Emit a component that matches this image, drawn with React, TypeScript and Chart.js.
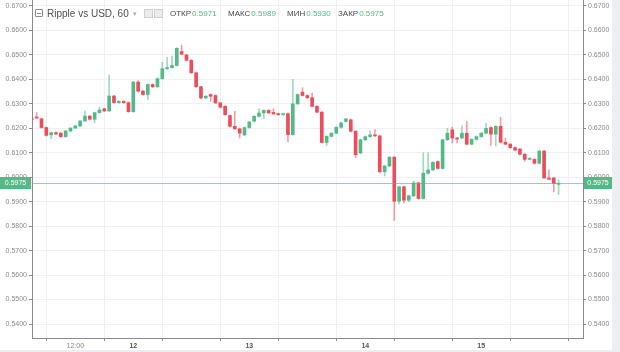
import React, { useEffect, useRef } from "react";
import { Chart, registerables } from "chart.js";
Chart.register(...registerables);

// hourly candles, first candle at hour 3 of day 11 (day 12 00:00 = hour 24)
const START_HOUR = 3;

const opens = [
  0.6240, 0.6246, 0.6239, 0.6203, 0.6173, 0.6182, 0.6180, 0.6166, 0.6189, 0.6201,
  0.6210, 0.6230, 0.6250, 0.6237, 0.6264, 0.6280, 0.6271, 0.6332, 0.6305, 0.6310,
  0.6305, 0.6268, 0.6389, 0.6352, 0.6338, 0.6379, 0.6370, 0.6403, 0.6444, 0.6448,
  0.6457, 0.6514, 0.6500, 0.6478, 0.6427, 0.6370, 0.6324, 0.6338, 0.6334, 0.6304,
  0.6290, 0.6252, 0.6208, 0.6198, 0.6173, 0.6203, 0.6229, 0.6249, 0.6263, 0.6273,
  0.6265, 0.6259, 0.6256, 0.6260, 0.6174, 0.6300, 0.6348, 0.6334, 0.6325, 0.6290,
  0.6266, 0.6142, 0.6167, 0.6180, 0.6204, 0.6228, 0.6235, 0.6188, 0.6099, 0.6153,
  0.6166, 0.6173, 0.6169, 0.6022, 0.6046, 0.6082, 0.5902, 0.5961, 0.5906, 0.5924,
  0.5977, 0.5913, 0.6016, 0.6030, 0.6064, 0.6036, 0.6153, 0.6194, 0.6160, 0.6160,
  0.6180, 0.6135, 0.6155, 0.6166, 0.6180, 0.6203, 0.6176, 0.6208, 0.6143, 0.6135,
  0.6121, 0.6115, 0.6094, 0.6073, 0.6073, 0.6057, 0.6107, 0.5997, 0.5997, 0.5971,
];

const closes = [
  0.6236, 0.6242, 0.6203, 0.6171, 0.6182, 0.6177, 0.6166, 0.6189, 0.6201, 0.6210,
  0.6230, 0.6250, 0.6237, 0.6264, 0.6275, 0.6271, 0.6332, 0.6305, 0.6310, 0.6305,
  0.6268, 0.6389, 0.6352, 0.6338, 0.6379, 0.6370, 0.6403, 0.6444, 0.6448, 0.6457,
  0.6527, 0.6503, 0.6478, 0.6427, 0.6370, 0.6324, 0.6331, 0.6331, 0.6304, 0.6286,
  0.6256, 0.6208, 0.6198, 0.6180, 0.6203, 0.6226, 0.6249, 0.6263, 0.6273, 0.6263,
  0.6259, 0.6256, 0.6260, 0.6174, 0.6300, 0.6338, 0.6334, 0.6325, 0.6290, 0.6266,
  0.6142, 0.6167, 0.6180, 0.6204, 0.6222, 0.6238, 0.6188, 0.6092, 0.6153, 0.6166,
  0.6173, 0.6169, 0.6022, 0.6046, 0.6082, 0.5902, 0.5961, 0.5906, 0.5924, 0.5977,
  0.5913, 0.6016, 0.6030, 0.6061, 0.6036, 0.6153, 0.6180, 0.6160, 0.6156, 0.6180,
  0.6135, 0.6155, 0.6166, 0.6180, 0.6200, 0.6176, 0.6208, 0.6143, 0.6135, 0.6121,
  0.6111, 0.6094, 0.6073, 0.6077, 0.6057, 0.6107, 0.5997, 0.5992, 0.5974, 0.5975,
];

const highs = [
  0.6243, 0.6264, 0.6242, 0.6205, 0.6185, 0.6186, 0.6184, 0.6192, 0.6203, 0.6213,
  0.6232, 0.6270, 0.6252, 0.6266, 0.6287, 0.6282, 0.6418, 0.6335, 0.6313, 0.6313,
  0.6308, 0.6392, 0.6395, 0.6356, 0.6382, 0.6382, 0.6406, 0.6470, 0.6490, 0.6495,
  0.6530, 0.6540, 0.6503, 0.6481, 0.6430, 0.6373, 0.6334, 0.6341, 0.6337, 0.6307,
  0.6293, 0.6255, 0.6270, 0.6201, 0.6206, 0.6229, 0.6252, 0.6280, 0.6276, 0.6276,
  0.6280, 0.6262, 0.6263, 0.6263, 0.6400, 0.6341, 0.6366, 0.6337, 0.6345, 0.6293,
  0.6269, 0.6170, 0.6183, 0.6207, 0.6225, 0.6241, 0.6238, 0.6191, 0.6156, 0.6169,
  0.6190, 0.6195, 0.6172, 0.6049, 0.6085, 0.6085, 0.5964, 0.5964, 0.5927, 0.5985,
  0.5980, 0.6100, 0.6100, 0.6064, 0.6067, 0.6156, 0.6200, 0.6205, 0.6163, 0.6210,
  0.6228, 0.6158, 0.6169, 0.6183, 0.6220, 0.6206, 0.6211, 0.6245, 0.6160, 0.6138,
  0.6124, 0.6118, 0.6097, 0.6080, 0.6076, 0.6110, 0.6110, 0.6030, 0.6000, 0.5989,
];

const lows = [
  0.6233, 0.6240, 0.6200, 0.6168, 0.6158, 0.6174, 0.6162, 0.6163, 0.6186, 0.6199,
  0.6207, 0.6228, 0.6234, 0.6223, 0.6262, 0.6268, 0.6268, 0.6302, 0.6302, 0.6302,
  0.6265, 0.6265, 0.6348, 0.6334, 0.6318, 0.6366, 0.6366, 0.6400, 0.6440, 0.6445,
  0.6454, 0.6500, 0.6475, 0.6424, 0.6367, 0.6320, 0.6320, 0.6310, 0.6301, 0.6283,
  0.6253, 0.6205, 0.6195, 0.6160, 0.6170, 0.6200, 0.6226, 0.6246, 0.6240, 0.6260,
  0.6256, 0.6253, 0.6253, 0.6145, 0.6171, 0.6297, 0.6331, 0.6322, 0.6287, 0.6263,
  0.6139, 0.6130, 0.6164, 0.6177, 0.6201, 0.6225, 0.6185, 0.6080, 0.6096, 0.6150,
  0.6163, 0.6166, 0.6019, 0.6005, 0.6043, 0.5824, 0.5890, 0.5895, 0.5900, 0.5921,
  0.5910, 0.5910, 0.6013, 0.6027, 0.6033, 0.6033, 0.6150, 0.6140, 0.6140, 0.6157,
  0.6132, 0.6132, 0.6152, 0.6163, 0.6177, 0.6130, 0.6128, 0.6140, 0.6132, 0.6118,
  0.6108, 0.6091, 0.6065, 0.6070, 0.6054, 0.6054, 0.5994, 0.5989, 0.5940, 0.5930,
];

const xTickHours = [12, 24, 36, 48, 60, 72, 84, 96, 108];
const xTickLabels = ["12:00", "12", "", "13", "", "14", "", "15", ""];
const xTickBold = [false, true, false, true, false, true, false, true, false];
const yTickValues = [
  0.54, 0.55, 0.56, 0.57, 0.58, 0.59, 0.6, 0.61, 0.62, 0.63, 0.64, 0.65, 0.66, 0.67,
];
const lastPrice = 0.5975;
const legendTitle = "Ripple vs USD, 60";
const legendFields = [
  { label: "ОТКР", value: "0.5971", left: 170 },
  { label: "МАКС", value: "0.5989", left: 228 },
  { label: "МИН", value: "0.5930", left: 287 },
  { label: "ЗАКР", value: "0.5975", left: 338 },
];

const UP = "#53b987";
const DOWN = "#eb4d5c";
const UP_WICK = "rgba(83,185,135,0.55)";
const DOWN_WICK = "rgba(235,77,92,0.55)";
const AXIS = "#8c8c8c";
const GRID = "#eef0f3";
const TICK_FONT = "'Liberation Sans', Arial, sans-serif";

const Y_MIN = 0.53428;
const Y_MAX = 0.67245;
const X_MIN = 3.04;
const X_MAX = 117.05;

const pricePlugin = {
  id: "priceLine",
  afterDatasetsDraw(chart: any) {
    const { ctx, chartArea, scales } = chart;
    const y = Math.round(scales.y.getPixelForValue(lastPrice)) + 0.5;
    ctx.save();
    ctx.strokeStyle = "rgba(83,185,135,0.65)";
    ctx.lineWidth = 1;
    ctx.beginPath();
    ctx.moveTo(chartArea.left, y);
    ctx.lineTo(chartArea.right, y);
    ctx.stroke();
    ctx.restore();
  },
  afterDraw(chart: any) {
    const { ctx, chartArea, scales, width } = chart;
    const y = Math.round(scales.y.getPixelForValue(lastPrice));
    const txt = lastPrice.toFixed(4);
    ctx.save();
    ctx.fillStyle = UP;
    ctx.fillRect(0, y - 6, chartArea.left - 1, 12);
    ctx.fillRect(chartArea.right + 1, y - 6, width - chartArea.right - 1, 12);
    ctx.fillStyle = "#ffffff";
    ctx.font = "7px " + TICK_FONT;
    ctx.textBaseline = "middle";
    ctx.textAlign = "center";
    ctx.fillText(txt, (chartArea.left - 1) / 2, y + 0.5);
    ctx.fillText(txt, (chartArea.right + 1 + width) / 2, y + 0.5);
    ctx.restore();
  },
};

export default function App() {
  const canvasRef = useRef<HTMLCanvasElement | null>(null);

  useEffect(() => {
    const canvas = canvasRef.current;
    if (!canvas) return;
    const isUp = opens.map((o, i) => closes[i] >= o);
    const bodies = opens.map((o, i) => ({ x: START_HOUR + i, y: [o, closes[i]] }));
    const wicks = lows.map((l, i) => ({ x: START_HOUR + i, y: [l, highs[i]] }));

    const yTicksCfg = {
      color: "#8a8a8a",
      font: { size: 7, family: TICK_FONT },
      padding: 2,
      autoSkip: false,
      callback: (v: any) => Number(v).toFixed(4),
    };

    const chart = new Chart(canvas, {
      type: "bar",
      data: {
        datasets: [
          {
            data: bodies as any,
            backgroundColor: isUp.map((u) => (u ? UP : DOWN)),
            barThickness: 3,
            minBarLength: 1,
            borderWidth: 0,
            grouped: false,
            clip: 0,
            yAxisID: "y",
          } as any,
          {
            data: wicks as any,
            backgroundColor: isUp.map((u) => (u ? UP_WICK : DOWN_WICK)),
            barThickness: 1,
            borderWidth: 0,
            grouped: false,
            clip: 0,
            yAxisID: "y",
          } as any,
        ],
      },
      options: {
        animation: false,
        responsive: false,
        maintainAspectRatio: false,
        events: [],
        layout: { padding: 0 },
        plugins: { legend: { display: false }, tooltip: { enabled: false } },
        scales: {
          x: {
            type: "linear",
            min: X_MIN,
            max: X_MAX,
            offset: false,
            afterBuildTicks: (scale: any) => {
              scale.ticks = xTickHours.map((v) => ({ value: v }));
            },
            afterFit: (scale: any) => {
              scale.height = 12;
              scale.paddingLeft = 0;
              scale.paddingRight = 0;
            },
            grid: { color: GRID, tickColor: AXIS, tickLength: 3, lineWidth: 1 },
            border: { display: true, color: AXIS, width: 1 },
            ticks: {
              autoSkip: false,
              maxRotation: 0,
              padding: 1,
              color: (ctx: any) => (xTickBold[ctx.index] ? "#555555" : "#8a8a8a"),
              font: (ctx: any) => ({
                size: 7,
                family: TICK_FONT,
                weight: xTickBold[ctx.index] ? "bold" : "normal",
              }),
              callback: (v: any) => {
                const i = xTickHours.indexOf(Number(v));
                return i >= 0 ? xTickLabels[i] : "";
              },
            },
          } as any,
          y: {
            type: "linear",
            position: "left",
            min: Y_MIN,
            max: Y_MAX,
            afterBuildTicks: (scale: any) => {
              scale.ticks = yTickValues.map((v) => ({ value: v }));
            },
            afterFit: (scale: any) => {
              scale.width = 32;
              scale.paddingTop = 0;
              scale.paddingBottom = 0;
            },
            grid: { color: GRID, tickColor: AXIS, tickLength: 3, lineWidth: 1 },
            border: { display: true, color: AXIS, width: 1 },
            ticks: yTicksCfg,
          } as any,
          y2: {
            type: "linear",
            position: "right",
            min: Y_MIN,
            max: Y_MAX,
            afterBuildTicks: (scale: any) => {
              scale.ticks = yTickValues.map((v) => ({ value: v }));
            },
            afterFit: (scale: any) => {
              scale.width = 29;
              scale.paddingTop = 0;
              scale.paddingBottom = 0;
            },
            grid: { drawOnChartArea: false, color: GRID, tickColor: AXIS, tickLength: 3 },
            border: { display: true, color: AXIS, width: 1 },
            ticks: yTicksCfg,
          } as any,
        },
      },
      plugins: [pricePlugin],
    });
    return () => chart.destroy();
  }, []);

  const labelStyle: React.CSSProperties = {
    position: "absolute",
    top: 9,
    fontFamily: "'Liberation Sans', Arial, sans-serif",
    fontSize: 8,
    lineHeight: "10px",
    whiteSpace: "nowrap",
  };

  return (
    <div
      style={{
        position: "absolute",
        left: 0,
        top: 0,
        width: 620,
        height: 352,
        background: "#eceef1",
        overflow: "hidden",
      }}
    >
      <canvas
        ref={canvasRef}
        width={612}
        height={350}
        style={{ position: "absolute", left: 0, top: 0, background: "#ffffff", display: "block" }}
      />
      <div
        style={{
          position: "absolute",
          left: 35,
          top: 9,
          width: 6,
          height: 6,
          border: "1px solid #8a8a8a",
          borderRadius: 1,
        }}
      >
        <div style={{ position: "absolute", left: 1, top: 2.5, width: 4, height: 1, background: "#8a8a8a" }} />
      </div>
      <span
        style={{
          position: "absolute",
          left: 47,
          top: 7,
          fontFamily: "'Liberation Sans', Arial, sans-serif",
          fontSize: 10,
          lineHeight: "13px",
          color: "#505050",
          whiteSpace: "nowrap",
        }}
      >
        {legendTitle}
      </span>
      <span style={{ ...labelStyle, left: 133, color: "#aaaaaa", fontSize: 7 }}>▾</span>
      <div style={{ position: "absolute", left: 144, top: 9, width: 7, height: 7, border: "1px solid #d0d0d0", background: "#ececec" }} />
      <div style={{ position: "absolute", left: 154, top: 9, width: 7, height: 7, border: "1px solid #d0d0d0", background: "#ececec" }} />
      {legendFields.map((f) => (
        <span key={f.label} style={{ ...labelStyle, left: f.left }}>
          <span style={{ color: "#4a4a4a" }}>{f.label}</span>
          <span style={{ color: UP, marginLeft: 1 }}>{f.value}</span>
        </span>
      ))}
    </div>
  );
}
